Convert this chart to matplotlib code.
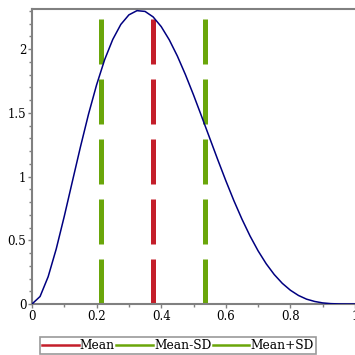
import matplotlib
matplotlib.use("Agg")
import matplotlib.pyplot as plt

# density curve
xs = [0, 0.025, 0.05, 0.075, 0.1, 0.125, 0.15, 0.175, 0.2, 0.225, 0.25,
      0.275, 0.3, 0.325, 0.35, 0.375, 0.4, 0.425, 0.45, 0.475, 0.5,
      0.525, 0.55, 0.575, 0.6, 0.625, 0.65, 0.675, 0.7, 0.725, 0.75,
      0.775, 0.8, 0.825, 0.85, 0.875, 0.9, 0.925, 0.95, 0.975, 1.0]
ys = [0, 0.059, 0.214, 0.432, 0.689, 0.962, 1.233, 1.490, 1.720, 1.918, 2.076,
      2.194, 2.269, 2.302, 2.296, 2.253, 2.177, 2.073, 1.946, 1.800, 1.641,
      1.473, 1.303, 1.133, 0.968, 0.811, 0.666, 0.534, 0.417, 0.316, 0.231,
      0.162, 0.108, 0.067, 0.038, 0.020, 0.0085, 0.0028, 0.0006, 0.0, 0.0]

mean = 0.375
mean_minus_sd = 0.214
mean_plus_sd = 0.536
line_top = 2.305

red = "#c41e2a"
green = "#6aa60a"
navy = "#000080"
gray = "#808080"

plt.rcParams["font.family"] = ["DejaVu Serif"]

fig = plt.figure(figsize=(3.55, 3.55), dpi=100)
ax = fig.add_axes([32 / 355, 51 / 355, 323 / 355, 295 / 355])

ax.plot(xs, ys, color=navy, lw=1.1, zorder=3)
dash = (0, (9, 3))
ax.plot([mean, mean], [0, line_top], color=red, lw=3.6, ls=dash, label="Mean")
ax.plot([mean_minus_sd, mean_minus_sd], [0, line_top], color=green, lw=3.6, ls=dash, label="Mean-SD")
ax.plot([mean_plus_sd, mean_plus_sd], [0, line_top], color=green, lw=3.6, ls=dash, label="Mean+SD")

ax.set_xlim(0, 1)
ax.set_ylim(0, 2.315)
ax.set_xticks([0, 0.2, 0.4, 0.6, 0.8, 1])
ax.set_xticklabels(["0", "0.2", "0.4", "0.6", "0.8", "1"])
ax.set_xticks([0.1, 0.3, 0.5, 0.7, 0.9], minor=True)
ax.set_yticks([0, 0.5, 1, 1.5, 2])
ax.set_yticklabels(["0", "0.5", "1", "1.5", "2"])
ax.set_yticks([i / 10 for i in range(24) if i % 5], minor=True)
ax.tick_params(labelsize=8.5, color=gray, width=1, length=3, pad=1)
ax.tick_params(which="minor", color=gray, width=1, length=2)

for side in ["left", "bottom", "top"]:
    ax.spines[side].set_color(gray)
    ax.spines[side].set_linewidth(1.5)
ax.spines["right"].set_visible(False)

handles, labels = ax.get_legend_handles_labels()
leg_handles = [plt.Line2D([], [], color=h.get_color(), lw=1.8) for h in handles]
leg = fig.legend(leg_handles, labels, loc="lower center", ncol=3,
                 bbox_to_anchor=(178 / 355, 1 / 355), fontsize=8.8,
                 frameon=True, fancybox=False, handlelength=3.0,
                 handletextpad=0.1, columnspacing=0.1, borderpad=0.15,
                 borderaxespad=0)
leg.get_frame().set_edgecolor(gray)
leg.get_frame().set_linewidth(1.2)

fig.savefig("out.png", dpi=100)
